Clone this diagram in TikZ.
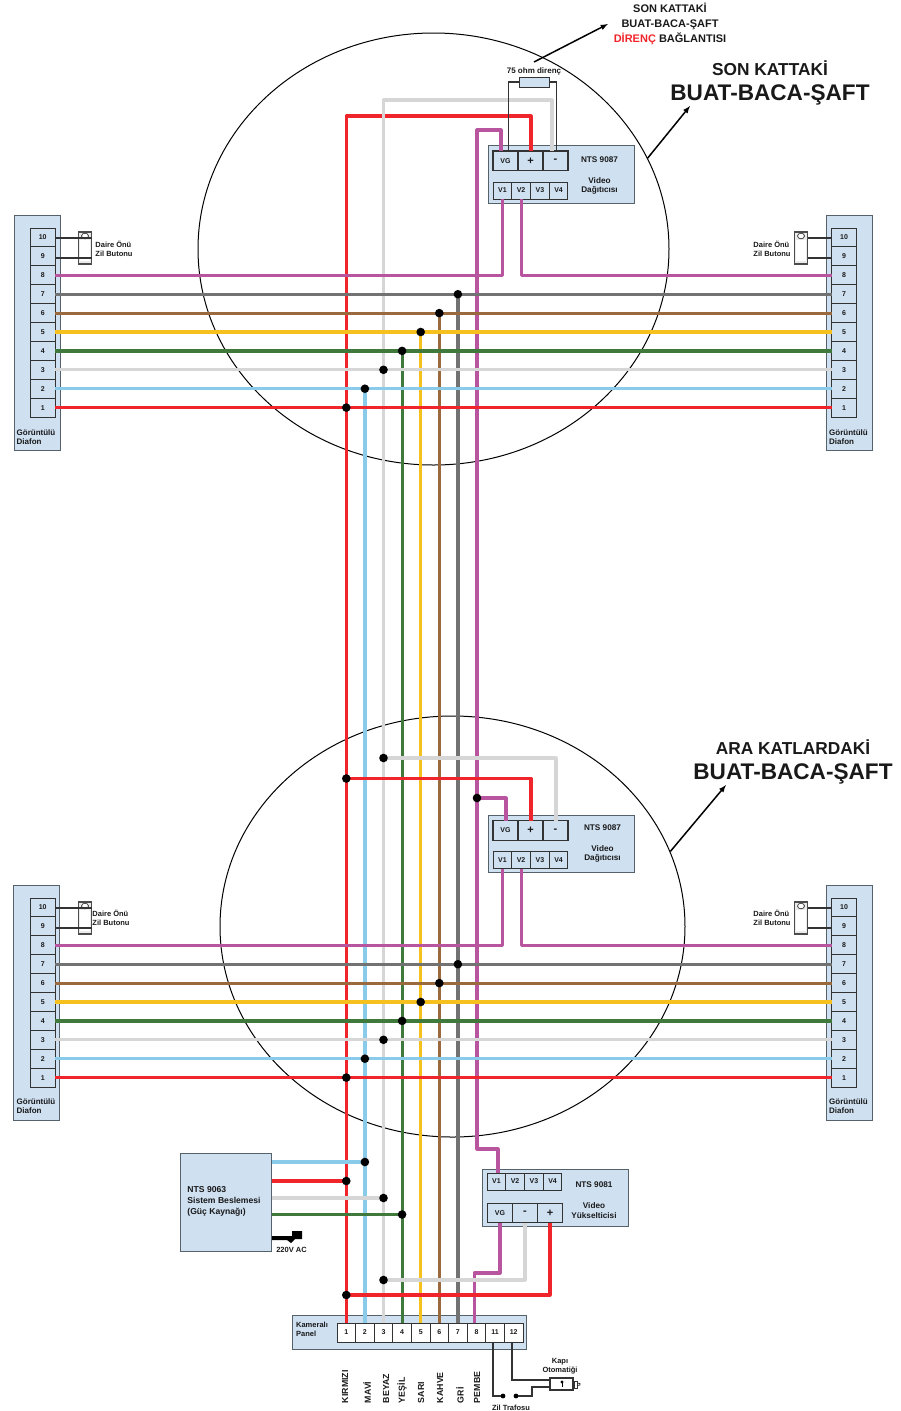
\documentclass[tikz,border=0pt]{standalone}
\usepackage{fontspec}
\setmainfont{Liberation Sans}
\usetikzlibrary{calc,shapes.geometric}
\definecolor{boxblue}{HTML}{CFE0F1}
\definecolor{edgegray}{HTML}{55626A}
\definecolor{wired}{HTML}{F0242B}
\definecolor{wireb}{HTML}{8ACBEA}
\definecolor{wirew}{HTML}{D6D6D6}
\definecolor{wireg}{HTML}{3F7A3C}
\definecolor{wirey}{HTML}{F6C11F}
\definecolor{wirek}{HTML}{9A6A3E}
\definecolor{wiret}{HTML}{727272}
\definecolor{wirep}{HTML}{B9549E}
\tikzset{
  txt/.style={inner sep=0pt,outer sep=0pt,align=center,text=black!90,font=\bfseries\fontsize{#1}{1.25\dimexpr#1pt\relax}\selectfont},
  txt/.default=7.5,
  leftxt/.style={txt=#1,align=left},
  leftxt/.default=7.5,
  bigbox/.style={draw=edgegray,fill=boxblue,line width=1pt,inner sep=0pt,outer sep=0pt},
  cell/.style={draw=black!80,fill=boxblue,line width=1pt,inner sep=0pt,outer sep=0pt,minimum height=#1,text=black!90,font=\bfseries\fontsize{7}{8}\selectfont},
  cell/.default=18.9pt,
  powcell/.style={cell=19.5pt,minimum width=25pt,line width=1.3pt},
  signcell/.style={powcell,font=\bfseries\fontsize{11}{11}\selectfont},
  wire/.style={line width=3.2pt,line join=round},
  thin wire/.style={draw=black!80,line width=1.2pt},
  dotnode/.style={circle,fill=black,inner sep=0pt,outer sep=0pt,minimum size=8.6pt},
  shaftcirc/.style={ellipse,draw=black,line width=1pt,inner sep=0pt},
  pointer/.style={-latex,draw=black,line width=1.5pt}
}
\begin{document}
\begin{tikzpicture}[x=1pt,y=-1pt]
      \useasboundingbox (0,0) rectangle (900,1411);

      % shaft circles
      \node[shaftcirc,minimum width=471pt,minimum height=432pt] (topcirc) at (433.5,249) {};
      \node[shaftcirc,minimum width=465pt,minimum height=421pt] (midcirc) at (452.5,926.5) {};

      % intercom strips
      \foreach \name/\bx/\cx/\by/\cy in {tl/37/42.7/332.5/237.5, tr/849/844/332.5/237.5, ml/36.5/42.7/1002.5/907.5, mr/849/844/1002.5/907.5}{
        \node[bigbox,minimum width=46pt,minimum height=235pt] (\name) at (\bx,\by) {};
        \foreach \n in {10,...,1}
          \node[cell,minimum width=24.6pt] (\name-\n) at (\cx,{\cy+(10-\n)*18.9}) {\n};
      }
      \node[leftxt=8] (tltxt) at (36,437) {Görüntülü\\[-1pt]Diafon};
      \node[leftxt=8] (trtxt) at (848.5,437) {Görüntülü\\[-1pt]Diafon};
      \node[leftxt=8] (mltxt) at (36,1106) {Görüntülü\\[-1pt]Diafon};
      \node[leftxt=8] (mrtxt) at (848.5,1106) {Görüntülü\\[-1pt]Diafon};

      % door buttons
      \foreach \name/\bx/\by in {tlb/85/248, trb/801/248, mlb/85/918, mrb/801/918}{
        \node[draw=black!70,fill=black!8,line width=1.2pt,minimum width=13pt,minimum height=32pt,inner sep=0pt] (\name) at (\bx,\by) {};
        \node[fill=white,minimum width=9.5pt,minimum height=21pt,inner sep=0pt] (\name-bar) at (\bx,\by+2.5) {};
        \node[circle,draw=black!80,fill=white,line width=.7pt,minimum width=7pt,inner sep=0pt,yscale=.8] (\name-top) at (\bx,\by-12) {};
      }
      \node[leftxt] (tlbtxt) at (114,248.5) {Daire Önü\\[-.5pt]Zil Butonu};
      \node[leftxt] (trbtxt) at (772,248.5) {Daire Önü\\[-.5pt]Zil Butonu};
      \node[leftxt] (mlbtxt) at (111,918) {Daire Önü\\[-.5pt]Zil Butonu};
      \node[leftxt] (mrbtxt) at (772,918) {Daire Önü\\[-.5pt]Zil Butonu};
      \draw[thin wire] (tlb.east |- 0,238) -- (tl-10.east |- 0,238);
      \draw[thin wire] (tlb.east |- 0,258) -- (tl-10.east |- 0,258);
      \draw[thin wire] (trb.east |- 0,238) -- (tr-10.west |- 0,238);
      \draw[thin wire] (trb.east |- 0,258) -- (tr-10.west |- 0,258);
      \draw[thin wire] (mlb.east |- 0,908) -- (ml-10.east |- 0,908);
      \draw[thin wire] (mlb.east |- 0,928) -- (ml-10.east |- 0,928);
      \draw[thin wire] (mrb.east |- 0,908) -- (mr-10.west |- 0,908);
      \draw[thin wire] (mrb.east |- 0,928) -- (mr-10.west |- 0,928);

      % top distributor
      \node[bigbox,minimum width=146pt,minimum height=58pt] (ta) at (561,174) {};
      \node[powcell] (ta-vg) at (505.5,160.8) {VG};
      \node[signcell] (ta-plus) at (530.5,160.8) {+};
      \node[signcell] (ta-minus) at (555.5,160.8) {-};
      \foreach \n/\cx in {1/502.4,2/521.1,3/539.9,4/558.6}
        \node[cell=17pt,minimum width=18.75pt] (ta-v\n) at (\cx,190.5) {V\n};
      \node[txt=8.2] (tatxt) at (599.5,160) {NTS 9087};
      \node[txt=8.2] (tatxtb) at (599.5,186) {Video\\[-.5pt]Dağıtıcısı};

      % middle distributor
      \node[bigbox,minimum width=146pt,minimum height=57pt] (ma) at (561,843.5) {};
      \node[powcell] (ma-vg) at (505.5,830.5) {VG};
      \node[signcell] (ma-plus) at (530.5,830.5) {+};
      \node[signcell] (ma-minus) at (555.5,830.5) {-};
      \foreach \n/\cx in {1/502.4,2/521.1,3/539.9,4/558.6}
        \node[cell=17pt,minimum width=18.75pt] (ma-v\n) at (\cx,860) {V\n};
      \node[txt=8.2] (matxt) at (602.5,828) {NTS 9087};
      \node[txt=8.2] (matxtb) at (602.5,854) {Video\\[-.5pt]Dağıtıcısı};

      % amplifier
      \node[bigbox,minimum width=146pt,minimum height=57pt] (am) at (555,1197.5) {};
      \foreach \n/\cx in {1/496.4,2/515.1,3/533.9,4/552.6}
        \node[cell=17pt,minimum width=18.75pt] (am-v\n) at (\cx,1181.5) {V\n};
      \node[powcell] (am-vg) at (500,1213) {VG};
      \node[signcell] (am-minus) at (525,1213) {-};
      \node[signcell] (am-plus) at (550,1213) {+};
      \node[txt=8.2] (amtxt) at (594,1185) {NTS 9081};
      \node[txt=8.2] (amtxtb) at (594,1210.5) {Video\\[-.5pt]Yükselticisi};

      % power supply
      \node[bigbox,minimum width=91pt,minimum height=98pt] (psu) at (226.3,1202) {};
      \node[leftxt=8.6] (psutxt) at (224,1201.5) {NTS 9063\\Sistem Beslemesi\\(Güç Kaynağı)};
      \fill[black] (272,1236) -- (292,1236) -- (292,1231) -- (302,1231) -- (302,1239) -- (295,1239) -- (291,1243) -- (287,1240) -- (272,1240) -- cycle;
      \node[txt=7.5] (actxt) at (291.5,1250) {220V AC};

      % camera panel
      \node[bigbox,minimum width=234pt,minimum height=34pt] (panel) at (409,1332) {};
      \node[leftxt] (paneltxt) at (312,1329) {Kameralı\\[-.5pt]Panel};
      \foreach \n/\cx in {1/346.3,2/364.9,3/383.5,4/402.1,5/420.7,6/439.3,7/457.9,8/476.5,11/495.1,12/513.7}
        \node[cell=19pt,fill=white,minimum width=18.6pt] (p-\n) at (\cx,1332.5) {\n};

      % riser wires
      \coordinate (top-1) at (346.3,116);
      \coordinate (top-3) at (383.5,100);
      \coordinate (top-8) at (477,130);
      \coordinate (ta-vgin) at (501,151);
      \coordinate (ta-minusin) at (552,151);
      \coordinate (ma-vgin) at (506,821);
      \coordinate (ma-minusin) at (556,821);
      \coordinate (ma-plusin) at (531,821);
      \coordinate (ta-plusin) at (531,151);
      \coordinate (j-1) at (p-1 |- tl-1);
      \coordinate (j-2) at (p-2 |- tl-2);
      \coordinate (j-3) at (p-3 |- tl-3);
      \coordinate (j-4) at (p-4 |- tl-4);
      \coordinate (j-5) at (p-5 |- tl-5);
      \coordinate (j-6) at (p-6 |- tl-6);
      \coordinate (j-7) at (p-7 |- tl-7);
      \coordinate (k-1) at (p-1 |- ml-1);
      \coordinate (k-2) at (p-2 |- ml-2);
      \coordinate (k-3) at (p-3 |- ml-3);
      \coordinate (k-4) at (p-4 |- ml-4);
      \coordinate (k-5) at (p-5 |- ml-5);
      \coordinate (k-6) at (p-6 |- ml-6);
      \coordinate (k-7) at (p-7 |- ml-7);
      \coordinate (m-1) at (346.3,778.5);
      \coordinate (m-3) at (383.5,758);
      \coordinate (m-8) at (477,798);
      \coordinate (q-2) at (p-2 |- 0,1162);
      \coordinate (q-1) at (p-1 |- 0,1181);
      \coordinate (q-3) at (p-3 |- 0,1198);
      \coordinate (q-4) at (p-4 |- 0,1214.5);
      \coordinate (r-3) at (383.5,1280);
      \coordinate (r-1) at (346.3,1295);
      \coordinate (jog-a) at (477,1149);
      \coordinate (jog-b) at (498,1149);
      \coordinate (jog-c) at (498,1173);
      \coordinate (jog-d) at (474.5,1273);

      \draw[wire,wired] (ta-plusin) |- (top-1) -- (p-1.north);
      \draw[wire,wireb] (j-2) -- (p-2.north);
      \draw[wire,wirew] (ta-minusin) |- (top-3) -- (p-3.north);
      \draw[wire,wireg] (j-4) -- (p-4.north);
      \draw[wire,wirey] (j-5) -- (p-5.north);
      \draw[wire,wirek] (j-6) -- (p-6.north);
      \draw[wire,wiret] (j-7) -- (p-7.north);
      \draw[wire,wirep] (ta-vgin) |- (top-8) -- (jog-a) -- (jog-b) -- (jog-c);
      \draw[wire,wirep] (am-vg.south) |- (jog-d) -- (p-8.north -| jog-d);

      % horizontal wires, top and middle floors
      \draw[wire,wirep] (ta-v1.south) |- (tl-8.east);
      \draw[wire,wirep] (ta-v2.south) |- (tr-8.west);
      \draw[wire,wirep] (ma-v1.south) |- (ml-8.east);
      \draw[wire,wirep] (ma-v2.south) |- (mr-8.west);
      \foreach \n/\col in {7/wiret,6/wirek,5/wirey,4/wireg,3/wirew,2/wireb,1/wired}{
        \draw[wire,\col] (tl-\n.east) -- (tr-\n.west);
        \draw[wire,\col] (ml-\n.east) -- (mr-\n.west);
      }

      % branches
      \draw[wire,wirew] (m-3) -| (ma-minusin);
      \draw[wire,wired] (m-1) -| (ma-plusin);
      \draw[wire,wirep] (m-8) -| (ma-vgin);
      \draw[wire,wireb] (psu.east |- q-2) -- (q-2);
      \draw[wire,wired] (psu.east |- q-1) -- (q-1);
      \draw[wire,wirew] (psu.east |- q-3) -- (q-3);
      \draw[wire,wireg] (psu.east |- q-4) -- (q-4);
      \draw[wire,wirew] (am-minus.south) |- (r-3);
      \draw[wire,wired] (am-plus.south) |- (r-1);

      % junction dots
      \foreach \jt in {j-1,j-2,j-3,j-4,j-5,j-6,j-7,k-1,k-2,k-3,k-4,k-5,k-6,k-7,m-1,m-3,m-8,q-1,q-2,q-3,q-4,r-1,r-3}
        \node[dotnode] (dot-\jt) at (\jt) {};

      % terminating resistor
      \node[draw=black!80,fill=boxblue,line width=1pt,minimum width=30pt,minimum height=10pt,inner sep=0pt] (res) at (534,82) {};
      \node[txt=8] (restxt) at (534,71) {75 ohm direnç};
      \coordinate (res-l) at (508.7,151);
      \coordinate (res-r) at (556.7,151);
      \draw[thin wire] (res.west) -| (res-l);
      \draw[thin wire] (res.east) -| (res-r);

      % door lock and bell transformer
      \node[draw=black!80,fill=white,line width=1.1pt,minimum width=23pt,minimum height=12pt,inner sep=0pt] (lock) at (561.5,1384) {};
      \fill[black] (562,1382) circle (1.6);
      \draw[black,line width=.9pt] (562,1382) -- (562,1387);
      \draw[black!80,line width=.8pt] (574,1381) rectangle (577,1388);
      \draw[black!80,line width=.8pt] (577,1383) -- (580,1383.5) -- (580,1385) -- (577,1385.5);
      \node[txt=7.5] (locktxt) at (560,1366) {Kapı\\[-.5pt]Otomatiği};
      \node[dotnode,minimum size=4.8pt] (bell-a) at (503,1396) {};
      \node[dotnode,minimum size=4.8pt] (bell-b) at (516,1396) {};
      \node[txt=7.5] (belltxt) at (511,1408) {Zil Trafosu};
      \draw[thin wire] (p-11.south -| 493,0) |- (bell-a.west);
      \draw[thin wire] (p-12.south -| 512,0) |- (lock.west |- 0,1380);
      \draw[thin wire] (bell-b.east) -| (532,1387) -- (lock.west |- 0,1387);

      % colour names
      \foreach \lab/\cx/\name in {KIRMIZI/345/cr,MAVİ/367/cb,BEYAZ/386/cw,YEŞİL/402/cg,SARI/421/cy,KAHVE/440/ck,GRİ/460/ct,PEMBE/477/cp}
        \node[txt=8.8,rotate=90,anchor=west] (\name) at (\cx,1403) {\lab};

      % titles and pointers
      \node[txt=11] (titlea) at (670,24) {SON KATTAKİ\\[1pt]BUAT-BACA-ŞAFT\\[1pt]{\color{wired}DİRENÇ} BAĞLANTISI};
      \node[txt=17.3] (titleb) at (770,68) {SON KATTAKİ};
      \node[txt=22.6] (titlec) at (770,95) {BUAT-BACA-ŞAFT};
      \node[txt=17.3] (titled) at (793,747) {ARA KATLARDAKİ};
      \node[txt=22.6] (titlee) at (793,774) {BUAT-BACA-ŞAFT};
      \coordinate (resptr) at (534,62);
      \coordinate (titlea-tip) at (608,24);
      \coordinate (titleb-tip) at (690,106);
      \coordinate (titlee-tip) at (726,785);
      \draw[pointer] (resptr) -- (titlea-tip);
      \draw[pointer] (topcirc.23) -- (titleb-tip);
      \draw[pointer] (midcirc.19) -- (titlee-tip);
    \end{tikzpicture}
\end{document}
